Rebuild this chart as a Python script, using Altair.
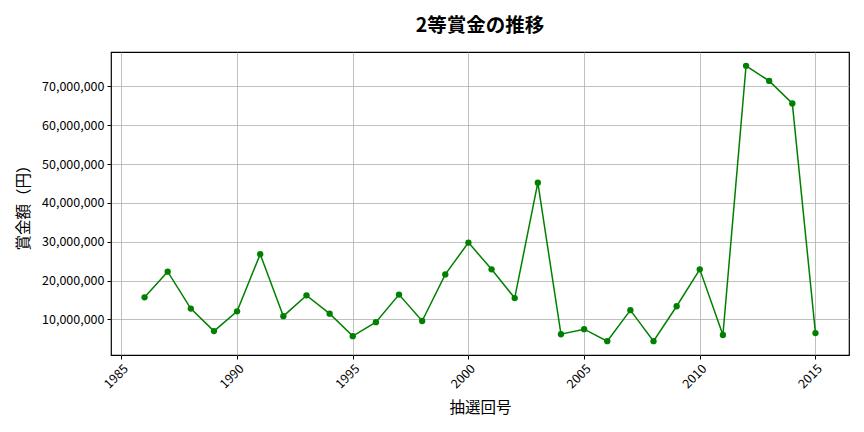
import altair as alt
import pandas as pd

years = list(range(1986, 2016))
prizes = [15.7, 22.3, 12.8, 7.0, 12.1, 26.8, 10.85, 16.2, 11.5, 5.7,
          9.3, 16.4, 9.6, 21.6, 29.8, 22.9, 15.5, 45.2, 6.2, 7.5,
          4.4, 12.4, 4.4, 13.4, 22.9, 6.0, 75.3, 71.4, 65.6, 6.5]
prizes = [round(v * 1_000_000) for v in prizes]

df = pd.DataFrame({"year": years, "prize": prizes})

FONT = "Noto Sans CJK JP"

x = alt.X("year:Q",
          scale=alt.Scale(domain=[1984.55, 2016.45], nice=False, zero=False),
          axis=alt.Axis(title="抽選回号", values=[1985, 1990, 1995, 2000, 2005, 2010, 2015],
                        format="d", labelAngle=-45, labelAlign="right", labelBaseline="top",
                        titleFontSize=15.5, titleFontWeight="normal", titlePadding=10))
y = alt.Y("prize:Q",
          scale=alt.Scale(domain=[850000, 78850000], nice=False, zero=False),
          axis=alt.Axis(title="賞金額（円）",
                        values=[10e6, 20e6, 30e6, 40e6, 50e6, 60e6, 70e6],
                        format=",d", titleFontSize=15.5, titleFontWeight="normal",
                        titlePadding=10))

line = alt.Chart(df).mark_line(color="#008000", strokeWidth=1.5).encode(x=x, y=y)
pts = alt.Chart(df).mark_circle(color="#008000", size=40, opacity=1).encode(x=x, y=y)

chart = (line + pts).properties(
    width=738, height=303,
    autosize=alt.AutoSizeParams(type="none"),
    padding={"left": 103, "top": 44, "right": 7, "bottom": 69},
    title=alt.Title("2等賞金の推移", fontSize=19.5, fontWeight="bold", font=FONT,
                    anchor="middle", offset=16),
).configure_axis(
    labelFont=FONT, titleFont=FONT, labelFontSize=12.5, labelColor="black",
    titleColor="black", gridColor="#b0b0b0", gridWidth=0.8, grid=True,
    domain=False, tickColor="black", tickSize=4, labelPadding=3,
).configure_view(stroke="black", strokeWidth=1.2)

chart.save("out.html", embed_options={"renderer": "svg", "actions": False})
